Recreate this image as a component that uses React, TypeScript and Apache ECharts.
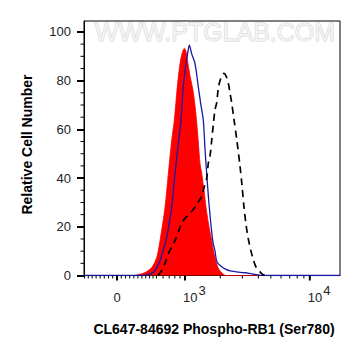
import React, { useEffect, useRef } from "react";
import * as echarts from "echarts";

// ---- display transform (biexponential-like channel scale) ----
const ZERO_CH = 33;
const DECADE_SCALE = 56.5;
const LINEAR_WIDTH = 660;
const toChannel = (v: number) => ZERO_CH + DECADE_SCALE * Math.asinh(v / LINEAR_WIDTH);

// ---- data (x in display channels 0..256, y in relative cell number) ----
const controlX = [0, 50, 54, 61, 67.7, 72.7, 76, 81, 84.3, 87.7, 90.3, 93.3, 96, 98, 100.5, 102, 104, 106, 109, 111.5, 113.3, 114.3, 116, 117.7, 120, 122, 125, 127.7, 130, 132.7, 135, 139, 142, 256];
const controlY = [0, 0, 0.3, 1.2, 3.3, 7.4, 14.3, 28, 41.8, 55.5, 63.7, 77.5, 87, 91, 93.3, 92, 87, 82, 76, 68, 60, 55, 46, 42, 35, 28, 20, 14.3, 9, 4.7, 2.5, 0.6, 0, 0];

const blueX = [0, 56, 63, 68, 71, 76, 79, 82, 85, 87.7, 89.5, 91, 94, 97, 99.3, 102, 104, 105.3, 107.7, 111, 114.3, 116.7, 119.3, 121, 122.7, 125.3, 128.7, 131, 133, 138, 142, 146, 153, 159, 164, 169, 174, 179, 256];
const blueY = [0, 0, 0.3, 1, 2, 6, 10, 14.3, 21, 28, 35, 41.8, 53, 63.7, 77.5, 87, 92, 94.6, 91, 87, 77.5, 70.6, 63.7, 52, 41.8, 28, 14.3, 10, 5.5, 3.5, 2.5, 1.9, 1.5, 1.2, 1, 0.6, 0.3, 0, 0];

const dashX = [74, 77.7, 81, 84.3, 88, 91, 94, 97.7, 101, 104.3, 108, 111, 114, 117.7, 120, 122.7, 124.3, 126, 127.7, 129.3, 131, 132.7, 134.3, 136, 138, 140, 142, 144.3, 146, 148, 150, 152.7, 156, 158, 160, 162, 164.3, 167, 169.3, 172, 176, 179, 181];
const dashY = [0, 2, 5, 8.8, 12, 14.3, 17.5, 21.5, 23.5, 24.8, 26.5, 28, 30, 32.5, 36, 40, 46, 49, 55.5, 62, 68, 71, 77, 80, 82, 83, 82, 79, 75, 70, 64, 56, 45, 37, 28, 21, 15, 10, 6.5, 3.5, 1.5, 0.3, 0];

// ---- axis ticks / labels ----
const xMajorTickValues = [0, 1000, 10000];
const xMinorTickValues = [-400, -350, -300, -250, -200, -150, -100, -50, 50, 100, 150, 200, 250, 300, 350, 400, 450, 500, 600, 700, 800, 900, 2000, 3000, 4000, 5000, 6000, 7000, 8000, 9000];
const xLabelValues = [0, 1000, 10000];
const xLabelBases = ["0", "10", "10"];
const xLabelExponents = ["", "3", "4"];
const yTickLabels = [0, 20, 40, 60, 80, 100];
const yMinorTickValues = [5, 10, 15, 25, 30, 35, 45, 50, 55, 65, 70, 75, 85, 90, 95];

const xTitle = "CL647-84692 Phospho-RB1 (Ser780)";
const yTitle = "Relative Cell Number";
const watermark = "WWW.PTGLAB.COM";

const FONT = "'Liberation Sans', Arial, sans-serif";
const zip = (xs: number[], ys: number[]) => xs.map((x, i) => [x, ys[i]]);

export default function App() {
  const ref = useRef<HTMLDivElement>(null);
  useEffect(() => {
    if (!ref.current) return;
    const chart = echarts.init(ref.current, null, { renderer: "svg" });
    const option: any = {
      animation: false,
      grid: { left: 84, right: 21, top: 21, bottom: 80.5, show: true, borderColor: "#000", borderWidth: 1, backgroundColor: "transparent" },
      xAxis: {
        type: "value", min: 0, max: 256,
        axisLine: { show: true, onZero: false, lineStyle: { color: "#000", width: 1 } },
        axisTick: { show: false }, axisLabel: { show: false }, splitLine: { show: false },
      },
      yAxis: {
        type: "value", min: 0, max: 104.5,
        axisLine: { show: true, lineStyle: { color: "#000", width: 1 } },
        axisTick: { show: true, length: 7, lineStyle: { color: "#000", width: 2 }, customValues: yTickLabels },
        axisLabel: {
          fontSize: 13, color: "#222", margin: 13, fontFamily: FONT, customValues: yTickLabels,
          formatter: (v: number) => (yTickLabels.indexOf(v) >= 0 ? String(v) : ""),
        },
        splitLine: { show: false },
      },
      graphic: [
        {
          type: "text", x: 215, y: 31.5, z: 0,
          style: { text: watermark, fontSize: 25, fontFamily: FONT, fill: "#f3f3f3", stroke: "#d2d2d2", lineWidth: 1, align: "center", verticalAlign: "middle" },
        },
        {
          type: "text", x: 214, y: 329,
          style: { text: xTitle, fontSize: 14, fontWeight: "bold", fontFamily: FONT, fill: "#000", align: "center", verticalAlign: "middle" },
        },
        {
          type: "text", x: 27, y: 144.5, rotation: Math.PI / 2,
          style: { text: yTitle, fontSize: 14, fontWeight: "bold", fontFamily: FONT, fill: "#000", align: "center", verticalAlign: "middle" },
        },
      ],
      series: [
        {
          type: "line", data: zip(controlX, controlY), symbol: "none", smooth: 0.3, z: 2,
          lineStyle: { color: "#ff0000", width: 0.8 }, areaStyle: { color: "#ff0000", opacity: 1 },
        },
        {
          type: "line", data: zip(blueX, blueY), symbol: "none", smooth: 0.3, z: 3,
          lineStyle: { color: "#1818a8", width: 1.3 },
        },
        {
          type: "line", data: zip(dashX, dashY), symbol: "none", smooth: 0.3, z: 4,
          lineStyle: { color: "#000", width: 1.7, type: [7, 5] },
        },
        {
          type: "custom", clip: false, silent: true, z: 5, encode: { x: 0, y: 1 },
          data: xMajorTickValues.map((v) => [toChannel(v), 0]),
          renderItem: (_p: any, api: any) => {
            const p = api.coord([api.value(0), api.value(1)]);
            return { type: "line", shape: { x1: p[0], y1: p[1], x2: p[0], y2: p[1] + 5 }, style: { stroke: "#000", lineWidth: 2 } };
          },
        },
        {
          type: "custom", clip: false, silent: true, z: 5, encode: { x: 0, y: 1 },
          data: xMinorTickValues.map((v) => [toChannel(v), 0]),
          renderItem: (_p: any, api: any) => {
            const p = api.coord([api.value(0), api.value(1)]);
            return { type: "line", shape: { x1: p[0], y1: p[1], x2: p[0], y2: p[1] + 3 }, style: { stroke: "#000", lineWidth: 1 } };
          },
        },
        {
          type: "custom", clip: false, silent: true, z: 5, encode: { x: 0, y: 1 },
          data: yMinorTickValues.map((v) => [0, v]),
          renderItem: (_p: any, api: any) => {
            const p = api.coord([api.value(0), api.value(1)]);
            return { type: "line", shape: { x1: p[0] - 3.5, y1: p[1], x2: p[0], y2: p[1] }, style: { stroke: "#000", lineWidth: 1 } };
          },
        },
        {
          type: "custom", clip: false, silent: true, z: 5, encode: { x: 0, y: 1 },
          data: xLabelValues.map((v, i) => [toChannel(v), 0, i]),
          renderItem: (_p: any, api: any) => {
            const i = api.value(2);
            const p = api.coord([api.value(0), api.value(1)]);
            const base = xLabelBases[i];
            const exp = xLabelExponents[i];
            const st = { fontSize: 13, fontFamily: FONT, fill: "#222" };
            if (!exp) {
              return { type: "text", x: p[0], y: p[1] + 22, style: { ...st, text: base, align: "center", verticalAlign: "middle" } };
            }
            return {
              type: "group",
              children: [
                { type: "text", x: p[0] - 2, y: p[1] + 22, style: { ...st, text: base, align: "left", verticalAlign: "middle" } },
                { type: "text", x: p[0] + 13.5, y: p[1] + 14.5, style: { ...st, text: exp, align: "left", verticalAlign: "middle" } },
              ],
            };
          },
        },
      ],
    };
    chart.setOption(option);
    return () => chart.dispose();
  }, []);
  return <div ref={ref} style={{ position: "absolute", left: 0, top: 0, width: 361, height: 356 }} />;
}
